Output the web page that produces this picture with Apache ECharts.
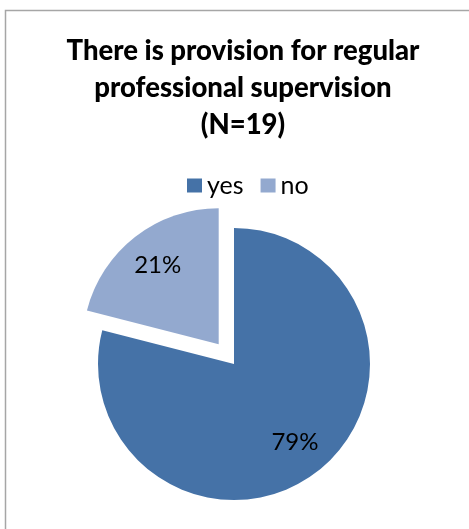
<!DOCTYPE html>
<html>
<head>
<meta charset="utf-8">
<script src="https://cdn.jsdelivr.net/npm/echarts@6/dist/echarts.min.js"></script>
<style>
  html, body { margin: 0; padding: 0; background: #fff; }
  #chart { width: 469px; height: 529px; }
</style>
</head>
<body>
<div id="chart"></div>
<script>
// data
var categories = ['yes', 'no'];
var values = [79, 21];          // percent of N=19
var colors = ['#4572A7', '#93A9CF'];
var explodedName = 'no';

window.onload = function () {
    var pieData = categories.map(function (name, i) {
        return {
            name: name,
            value: values[i],
            selected: name === explodedName,
            itemStyle: { color: colors[i] }
        };
    });
    // transparent copy only to put the % labels further out than r/2
    var labelData = categories.map(function (name, i) {
        return {
            name: name,
            value: values[i],
            selected: name === explodedName,
            itemStyle: { color: 'rgba(0,0,0,0)' }
        };
    });

    var option = {
        backgroundColor: '#fff',
        animation: false,
        title: {
            text: 'There is provision for regular\nprofessional supervision\n(N=19)',
            left: 238,
            textAlign: 'center',
            top: 28,
            textStyle: {
                fontFamily: 'Lato',
                fontWeight: 900,
                fontSize: 27.5,
                lineHeight: 37,
                color: '#000'
            }
        },
        legend: {
            data: categories.map(function (name, i) {
                return { name: name, itemStyle: { color: colors[i] } };
            }),
            left: 182,
            top: 168,
            icon: 'rect',
            itemWidth: 15,
            itemHeight: 14,
            itemGap: 17,
            selectedMode: false,
            textStyle: { fontFamily: 'Lato', fontSize: 25, color: '#000' }
        },
        graphic: [{
            type: 'rect',
            shape: { x: 5.5, y: 10.5, width: 600, height: 700 },
            style: { fill: 'none', stroke: '#a6a6a6', lineWidth: 1.5 },
            silent: true
        }],
        series: [
            {
                type: 'pie',
                center: [234, 364],
                radius: 136,
                startAngle: 90,
                clockwise: true,
                selectedMode: 'single',
                selectedOffset: 25,
                label: { show: false },
                labelLine: { show: false },
                emphasis: { disabled: true },
                data: pieData
            },
            {
                type: 'pie',
                center: [234, 364],
                radius: [57, 136],
                startAngle: 90,
                clockwise: true,
                selectedMode: 'single',
                selectedOffset: 25,
                silent: true,
                label: {
                    show: true,
                    position: 'inside',
                    formatter: '{d}%',
                    fontFamily: 'Lato',
                    fontSize: 24,
                    color: '#000'
                },
                labelLine: { show: false },
                emphasis: { disabled: true },
                data: labelData
            }
        ]
    };

    var myChart = echarts.init(document.getElementById('chart'));
    myChart.setOption(option);
};
</script>
</body>
</html>
